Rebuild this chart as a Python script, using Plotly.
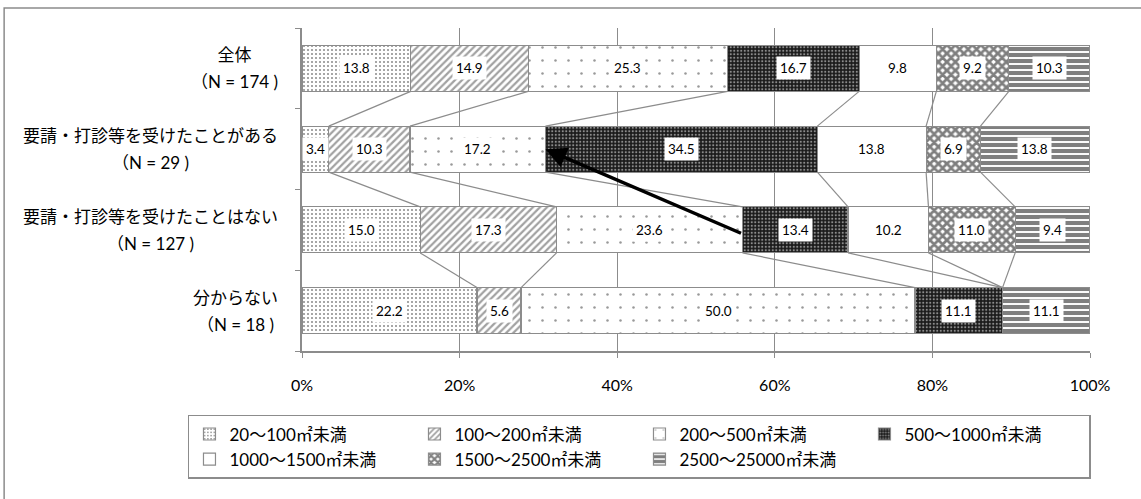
import plotly.graph_objects as go

# --- data -------------------------------------------------------------
categories = ["全体", "要請・打診等を受けたことがある", "要請・打診等を受けたことはない", "分からない"]
n_values = [174, 29, 127, 18]
y_pos = [3, 2, 1, 0]  # top row first

series_names = ["20～100㎡未満", "100～200㎡未満", "200～500㎡未満", "500～1000㎡未満",
                "1000～1500㎡未満", "1500～2500㎡未満", "2500～25000㎡未満"]
s_20_100 = [13.8, 3.4, 15.0, 22.2]
s_100_200 = [14.9, 10.3, 17.3, 5.6]
s_200_500 = [25.3, 17.2, 23.6, 50.0]
s_500_1000 = [16.7, 34.5, 13.4, 11.1]
s_1000_1500 = [9.8, 13.8, 10.2, 0.0]
s_1500_2500 = [9.2, 6.9, 11.0, 0.0]
s_2500_25000 = [10.3, 13.8, 9.4, 11.1]
series_values = [s_20_100, s_100_200, s_200_500, s_500_1000, s_1000_1500, s_1500_2500, s_2500_25000]

x_ticks = [0, 20, 40, 60, 80, 100]
x_tick_text = ["0%", "20%", "40%", "60%", "80%", "100%"]

# --- styles -------------------------------------------------------------
FONT = "Lato, Noto Sans CJK JP, sans-serif"
EDGE = "#8c8c8c"
patterns = [
    dict(shape=".", fgcolor="#222222", bgcolor="white", size=4, solidity=0.22),
    dict(shape="/", fgcolor="#444444", bgcolor="white", size=5, solidity=0.45),
    dict(shape=".", fgcolor="#333333", bgcolor="white", size=13, solidity=0.03),
    dict(shape=".", fgcolor="white", bgcolor="#1a1a1a", size=3.5, solidity=0.3),
    dict(shape="", fgcolor="white", bgcolor="white"),
    dict(shape="x", fgcolor="#000000", bgcolor="white", size=6, solidity=0.7),
    dict(shape="-", fgcolor="#000000", bgcolor="white", size=6, solidity=0.68),
]
BARGAP = 0.43
half = (1 - BARGAP) / 2

fig = go.Figure()

# stacked bars
for name, vals, pat in zip(series_names, series_values, patterns):
    fig.add_trace(go.Bar(
        x=vals, y=y_pos, orientation="h", name=name,
        marker=dict(color="white", line=dict(color=EDGE, width=1.2), pattern=pat),
        hoverinfo="x+name",
    ))

# cumulative boundaries per row
cum = []
for r in range(len(categories)):
    acc, row = 0.0, []
    for vals in series_values:
        acc += vals[r]
        row.append(acc)
    cum.append(row)

# series lines between neighbouring bars
lx, ly = [], []
for r in range(len(categories) - 1):
    for k in range(len(series_values) - 1):
        lx += [cum[r][k], cum[r + 1][k], None]
        ly += [y_pos[r] - half, y_pos[r + 1] + half, None]
fig.add_trace(go.Scatter(x=lx, y=ly, mode="lines", line=dict(color=EDGE, width=1.2),
                         showlegend=False, hoverinfo="skip"))

# value labels in white boxes
for r in range(len(categories)):
    start = 0.0
    for vals in series_values:
        v = vals[r]
        if v > 0:
            fig.add_annotation(x=start + v / 2, y=y_pos[r], text=f"{v:.1f}", showarrow=False,
                               bgcolor="white", borderpad=3, font=dict(size=13.5, color="black", family=FONT))
        start += v

# category labels (two lines, centred)
for cat, n, yv in zip(categories, n_values, y_pos):
    fig.add_annotation(
        xref="paper", x=0, xanchor="right", xshift=-22, y=yv, yref="y", showarrow=False, align="center",
        text=f"<span style='font-size:17px'>{cat}</span><br><span style='font-size:17px'>（N = {n} )</span>",
        font=dict(size=21, color="black", family=FONT),
    )

# arrow from row 3 (500～1000 start) to row 2 (200～500 end)
fig.add_annotation(x=cum[1][2], y=y_pos[1], xref="x", yref="y",
                   ax=cum[2][2], ay=y_pos[2] - 0.05, axref="x", ayref="y",
                   showarrow=True, arrowhead=2, arrowsize=1.2, arrowwidth=3.5, arrowcolor="black", text="")

# outer frame
fig.add_shape(type="rect", xref="paper", yref="paper", x0=-0.378, x1=1.2, y0=-0.6, y1=1.062,
              line=dict(color=EDGE, width=1.5), layer="below")

fig.update_layout(
    barmode="stack", bargap=BARGAP,
    width=1141, height=499,
    margin=dict(l=302, r=51, t=28, b=148),
    paper_bgcolor="white", plot_bgcolor="white",
    font=dict(family=FONT, size=15, color="black"),
    xaxis=dict(range=[0, 100], tickvals=x_ticks, ticktext=x_tick_text, showgrid=True,
               gridcolor=EDGE, gridwidth=1, zeroline=False, showline=True, linecolor=EDGE, linewidth=1.5,
               ticks="outside", ticklen=5, tickcolor=EDGE, ticklabelstandoff=14,
               tickfont=dict(size=16)),
    yaxis=dict(range=[-0.5, 3.5], tickvals=[-0.5, 0.5, 1.5, 2.5, 3.5], showticklabels=False,
               showgrid=False, zeroline=False, showline=True, linecolor=EDGE, linewidth=1.5,
               ticks="outside", ticklen=5, tickcolor=EDGE),
    legend=dict(orientation="h", x=-0.1447, xanchor="left", y=-0.198, yanchor="top",
                bordercolor=EDGE, borderwidth=1.5, bgcolor="white",
                font=dict(size=17, family=FONT), entrywidth=180, itemwidth=30,
                traceorder="normal"),
    showlegend=True,
)

# page body has an 8px default margin; drop it so the figure sits at the window origin
fig.write_html("out.html", config={"displayModeBar": False},
               post_script="document.body.style.margin='0';")
